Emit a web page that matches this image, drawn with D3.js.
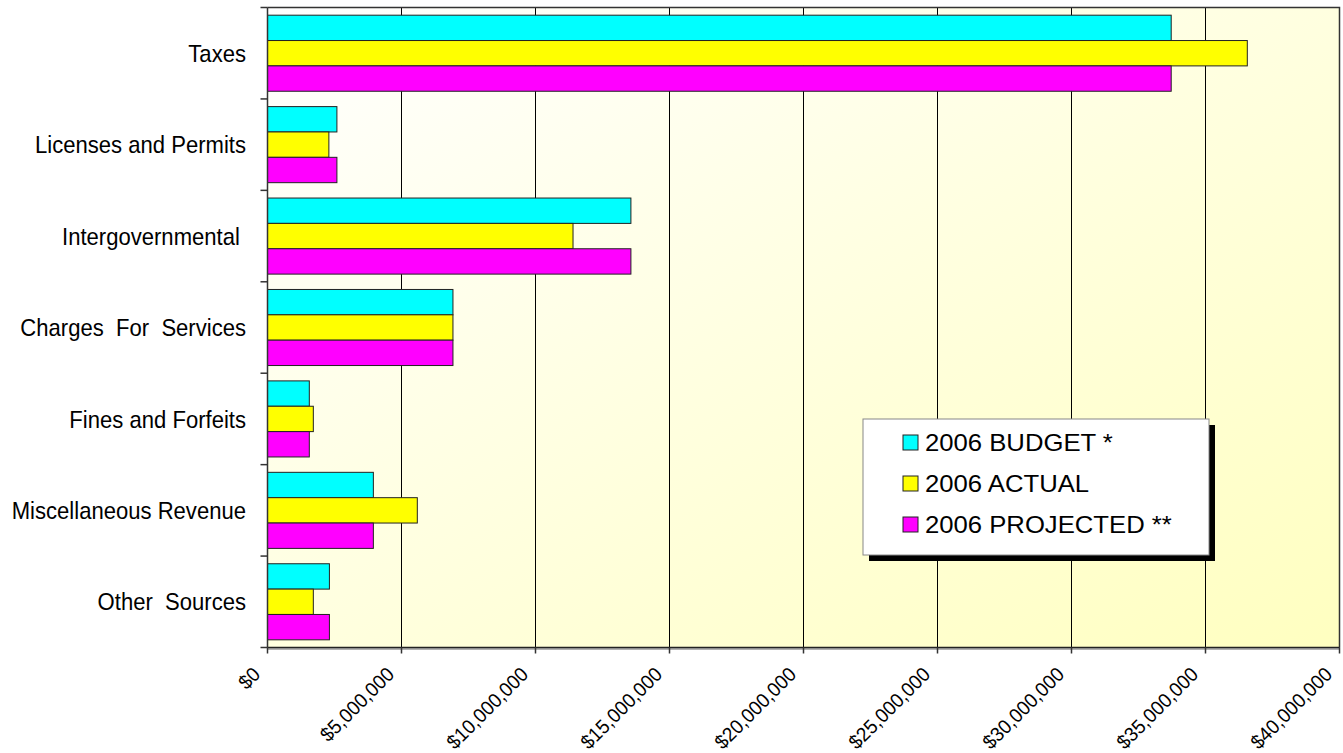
<!DOCTYPE html>
<html lang="en">
<head>
<meta charset="UTF-8">
<title>2006 Revenue</title>
<script src="https://cdn.jsdelivr.net/npm/d3@7"></script>
<style>
  body { margin: 0; background: #fff; }
  text { font-family: "Liberation Sans", Arial, sans-serif; fill: #000; }
</style>
</head>
<body>
<svg width="1343" height="753"></svg>
<script>
// categories and series (in dollars)
const categories = ["Taxes", "Licenses and Permits", "Intergovernmental ", "Charges  For  Services",
    "Fines and Forfeits", "Miscellaneous Revenue", "Other  Sources"];
const budget    = [33720000, 2590000, 13560000, 6920000, 1560000, 3950000, 2310000];
const actual    = [36560000, 2290000, 11400000, 6920000, 1710000, 5590000, 1710000];
const projected = [33720000, 2590000, 13560000, 6920000, 1560000, 3950000, 2310000];
const seriesNames = ["2006 BUDGET *", "2006 ACTUAL", "2006 PROJECTED **"];
const seriesColors = ["#00FFFF", "#FFFF00", "#FF00FF"];
const xTicks = [0, 5e6, 10e6, 15e6, 20e6, 25e6, 30e6, 35e6, 40e6];

let svg = d3.select("svg");
let plotL = 267.5, plotR = 1339.5, plotT = 7.5, plotB = 647.5;

let x = d3.scaleLinear().domain([0, 40e6]).range([plotL, plotR]);
let y = d3.scaleBand().domain(categories).range([plotT, plotB]).paddingInner(0.168).paddingOuter(0.084);
let ySub = d3.scaleBand().domain([0, 1, 2]).range([0, y.bandwidth()]);

// plot background gradient
let defs = svg.append("defs");
let grad = defs.append("linearGradient").attr("id", "bg")
    .attr("x1", "0%").attr("y1", "0%").attr("x2", "100%").attr("y2", "100%");
grad.append("stop").attr("offset", "0%").attr("stop-color", "#ffffff");
grad.append("stop").attr("offset", "100%").attr("stop-color", "#ffffc0");

svg.append("rect")
    .attr("x", plotL).attr("y", plotT)
    .attr("width", plotR - plotL).attr("height", plotB - plotT)
    .attr("fill", "url(#bg)");

// gridlines
svg.append("g").selectAll("line")
    .data(xTicks.slice(1))
    .enter().append("line")
    .attr("x1", d => x(d)).attr("x2", d => x(d))
    .attr("y1", plotT).attr("y2", plotB)
    .attr("stroke", "#000").attr("stroke-width", 1);

// plot border top/right
svg.append("path")
    .attr("d", `M${plotL},${plotT}H${plotR}V${plotB}`)
    .attr("fill", "none").attr("stroke", "#333").attr("stroke-width", 1.5);

// bars
let rows = categories.map((c, i) => ({cat: c, vals: [budget[i], actual[i], projected[i]]}));
let groups = svg.append("g").selectAll("g")
    .data(rows)
    .enter().append("g")
    .attr("transform", d => `translate(0,${y(d.cat)})`);

groups.selectAll("rect")
    .data(d => d.vals.map((v, j) => ({v: v, j: j})))
    .enter().append("rect")
    .attr("x", x(0))
    .attr("y", d => ySub(d.j))
    .attr("width", d => x(d.v) - x(0))
    .attr("height", ySub.bandwidth())
    .attr("fill", d => seriesColors[d.j])
    .attr("stroke", "#222").attr("stroke-width", 1);

// y axis
let yAxisG = svg.append("g");
yAxisG.append("line")
    .attr("x1", plotL).attr("x2", plotL).attr("y1", plotT).attr("y2", plotB)
    .attr("stroke", "#333").attr("stroke-width", 1.5);
let boundaries = d3.range(categories.length + 1).map(i => plotT + i * (plotB - plotT) / categories.length);
yAxisG.selectAll(".ytick")
    .data(boundaries)
    .enter().append("line")
    .attr("x1", plotL - 7).attr("x2", plotL)
    .attr("y1", d => d).attr("y2", d => d)
    .attr("stroke", "#333").attr("stroke-width", 1.5);
yAxisG.selectAll(".ylabel")
    .data(categories)
    .enter().append("text")
    .attr("transform", d => `translate(246,${y(d) + y.bandwidth() / 2}) scale(0.92,1)`)
    .attr("dy", "0.36em")
    .attr("text-anchor", "end")
    .attr("font-size", 24)
    .style("white-space", "pre")
    .text(d => d);

// x axis
let xAxisG = svg.append("g");
xAxisG.append("line")
    .attr("x1", plotL).attr("x2", plotR).attr("y1", plotB + 1.5).attr("y2", plotB + 1.5)
    .attr("stroke", "#999").attr("stroke-width", 1.5);
xAxisG.append("line")
    .attr("x1", plotL).attr("x2", plotR).attr("y1", plotB).attr("y2", plotB)
    .attr("stroke", "#222").attr("stroke-width", 1.5);
xAxisG.selectAll(".xtick")
    .data(xTicks)
    .enter().append("line")
    .attr("x1", d => x(d)).attr("x2", d => x(d))
    .attr("y1", plotB).attr("y2", plotB + 6)
    .attr("stroke", "#333").attr("stroke-width", 1.5);
let fmt = d3.format("$,.0f");
xAxisG.selectAll(".xlabel")
    .data(xTicks)
    .enter().append("text")
    .attr("transform", d => `translate(${x(d) - 6},${plotB + 28}) rotate(-45) scale(0.95,1)`)
    .attr("text-anchor", "end")
    .attr("font-size", 20)
    .text(d => fmt(d));

// legend
let lg = svg.append("g").attr("transform", "translate(863,419)");
lg.append("rect").attr("x", 6).attr("y", 6).attr("width", 346).attr("height", 136).attr("fill", "#000");
lg.append("rect").attr("x", 0).attr("y", 0).attr("width", 346).attr("height", 136)
    .attr("fill", "#fff").attr("stroke", "#888").attr("stroke-width", 1);
let items = lg.selectAll(".item")
    .data(seriesNames)
    .enter().append("g")
    .attr("transform", (d, i) => `translate(40,${23 + i * 41})`);
items.append("rect")
    .attr("x", 0).attr("y", -7).attr("width", 15).attr("height", 15)
    .attr("fill", (d, i) => seriesColors[i]).attr("stroke", "#222");
items.append("text")
    .attr("transform", "translate(22,0) scale(1.07,1)")
    .attr("dy", "0.36em")
    .attr("font-size", 24)
    .text(d => d);
</script>
</body>
</html>
